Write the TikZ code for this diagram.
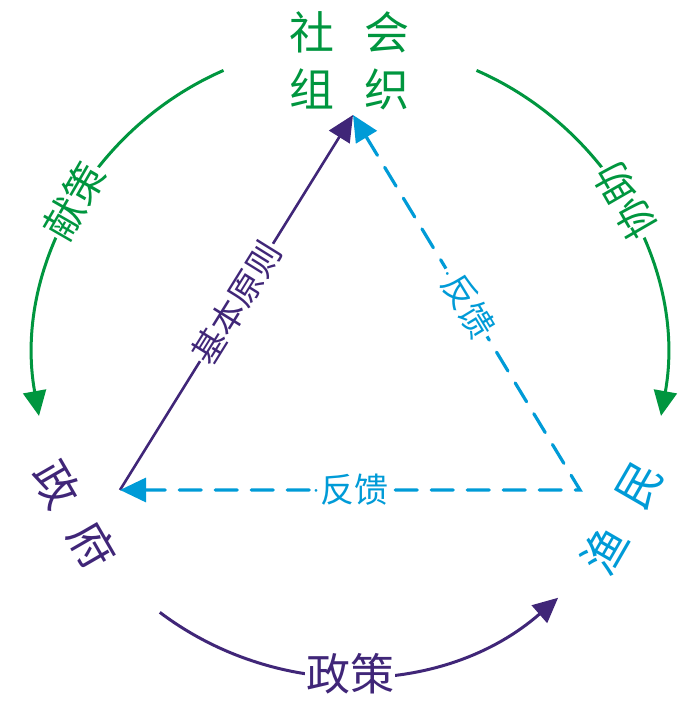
\documentclass[tikz,border=0pt]{standalone}
\usepackage{fontspec}
\newfontfamily\cjk{Noto Sans CJK SC}
\usetikzlibrary{arrows.meta}
\definecolor{cgreen}{HTML}{00963F}
\definecolor{cpurple}{HTML}{402678}
\definecolor{cblue}{HTML}{009BD7}
\newcommand{\ndot}{\hbox to 9pt{\hss{\normalfont·}\hss}}
\tikzset{
  arcline/.style={line width=3pt},
  bigtip/.style={-{Triangle[length=25pt,width=23pt]}},
  linelabel/.style={fill=white,inner sep=1pt,font=\cjk\fontsize{34}{34}\selectfont},
  arclabel/.style={fill=white,inner sep=1pt,font=\cjk\fontsize{40}{40}\selectfont},
  glyph/.style={inner sep=0pt,font=\cjk\fontsize{45}{45}\selectfont},
}
\begin{document}
\begin{tikzpicture}[x=1pt,y=1pt]
\useasboundingbox (0,0) rectangle (700,703);
\coordinate (C) at (350,343);
\coordinate (T) at (353,588);
\coordinate (L) at (120,213);
\coordinate (R) at (580,213);
% top text
\node[glyph,text=cgreen] (s1) at (312,671) {社};
\node[glyph,text=cgreen] (s2) at (387,671) {会};
\node[glyph,text=cgreen] (s3) at (312,614) {组};
\node[glyph,text=cgreen] (s4) at (387,614) {织};
% left and right texts
\node[glyph,text=cpurple,rotate=-60] (g1) at (57,219) {政};
\node[glyph,text=cpurple,rotate=-60] (g2) at (93,158) {府};
\node[glyph,text=cblue,rotate=60] (y1) at (605,153) {渔};
\node[glyph,text=cblue,rotate=60] (y2) at (640,218) {民};
% arcs
\draw[arcline,cgreen,bigtip] ([shift={(113.6:316)}]C) coordinate (a1s) arc[start angle=113.6,end angle=190.2,radius=316] coordinate (a1e);
\draw[arcline,cgreen,bigtip] ([shift={(66.4:316)}]C) coordinate (a2s) arc[start angle=66.4,end angle=-10.2,radius=316] coordinate (a2e);
\draw[arcline,cpurple,bigtip] ([shift={(233:316)}]C) coordinate (a3s) arc[start angle=233,end angle=311.2,radius=316] coordinate (a3e);
\node[arclabel,text=cgreen,rotate=60] (l1) at ([shift={(150:318)}]C) {献策};
\node[arclabel,text=cgreen,rotate=120] (l2) at ([shift={(30:318)}]C) {协助};
\node[arclabel,text=cpurple,font=\cjk\fontsize{44}{44}\selectfont] (l3) at ([shift={(270:314)}]C) {政策};
% triangle
\draw[line width=2.6pt,cpurple,-{Triangle[length=26pt,width=24pt]}] (L) -- (T) node[pos=0.5,sloped,linelabel,text=cpurple] (b1) {基本原则};
\draw[line width=3.2pt,cblue,dash pattern=on 22pt off 14pt,line cap=round,{Triangle[length=26pt,width=24pt]}-{Triangle[length=26pt,width=24pt]}] (T) -- (R) -- (L);
\path (T) -- (R) node[pos=0.5,sloped,linelabel,text=cblue] (f1) {\ndot 反馈};
\path (R) -- (L) node[pos=0.5,linelabel,text=cblue] (f2) {\ndot 反馈};
\end{tikzpicture}
\end{document}
